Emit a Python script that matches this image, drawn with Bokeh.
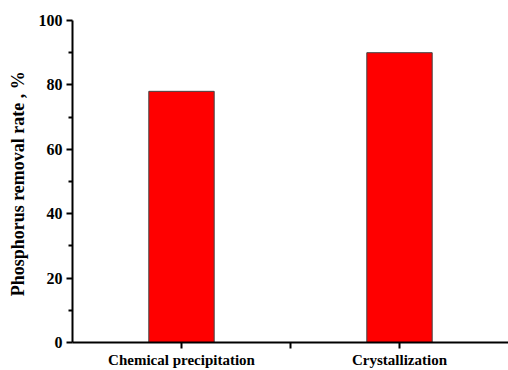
from bokeh.plotting import figure
from bokeh.models import FixedTicker, Range1d, ColumnDataSource
from bokeh.embed import file_html
from bokeh.resources import INLINE

# Removal performance of the two phosphorus recovery methods
methods = ["Chemical precipitation", "Crystallization"]
positions = [1, 2]
removal_rate = [78, 90]

y_ticks = [0, 20, 40, 60, 80, 100]
y_minor = [10, 30, 50, 70, 90]

FONT = "Liberation Serif"

src = ColumnDataSource(dict(x=positions, top=removal_rate))

p = figure(width=508, height=370, output_backend="svg", toolbar_location=None,
           x_range=Range1d(0.5, 2.5), y_range=Range1d(0, 100),
           min_border_left=72, min_border_right=0, min_border_top=20,
           min_border_bottom=26)
p.outline_line_color = None
p.grid.visible = False
p.background_fill_color = "white"
p.border_fill_color = "white"

p.vbar(x="x", top="top", width=0.3, source=src, fill_color="#FF0000",
       line_color="#444444", line_width=1)

# x axis: category labels at bar centres, unlabelled tick between them
p.xaxis.ticker = FixedTicker(ticks=[1, 1.5, 2], minor_ticks=[])
p.xaxis.major_label_overrides = {1: methods[0], 1.5: "", 2: methods[1]}
p.xaxis.major_label_text_font = FONT
p.xaxis.major_label_text_font_style = "bold"
p.xaxis.major_label_text_font_size = "15px"
p.xaxis.major_label_standoff = 3
p.xaxis.axis_line_width = 2
p.xaxis.major_tick_line_width = 2
p.xaxis.major_tick_out = 6
p.xaxis.major_tick_in = 0

# y axis
p.yaxis.ticker = FixedTicker(ticks=y_ticks, minor_ticks=y_minor)
p.yaxis.axis_label = "Phosphorus removal rate ,  %"
p.yaxis.axis_label_text_font = FONT
p.yaxis.axis_label_text_font_style = "bold"
p.yaxis.axis_label_text_font_size = "18px"
p.yaxis.axis_label_standoff = 8
p.yaxis.major_label_text_font = FONT
p.yaxis.major_label_text_font_style = "bold"
p.yaxis.major_label_text_font_size = "16px"
p.yaxis.major_label_standoff = 4
p.yaxis.axis_line_width = 2
p.yaxis.major_tick_line_width = 2
p.yaxis.minor_tick_line_width = 2
p.yaxis.major_tick_out = 6
p.yaxis.major_tick_in = 0
p.yaxis.minor_tick_out = 4
p.yaxis.minor_tick_in = 0

for ax in (p.xaxis, p.yaxis):
    ax.axis_line_color = "black"
    ax.major_tick_line_color = "black"
    ax.minor_tick_line_color = "black"
    ax.major_label_text_color = "black"
p.yaxis.axis_label_text_color = "black"

open("out.html", "w").write(file_html(p, INLINE))
